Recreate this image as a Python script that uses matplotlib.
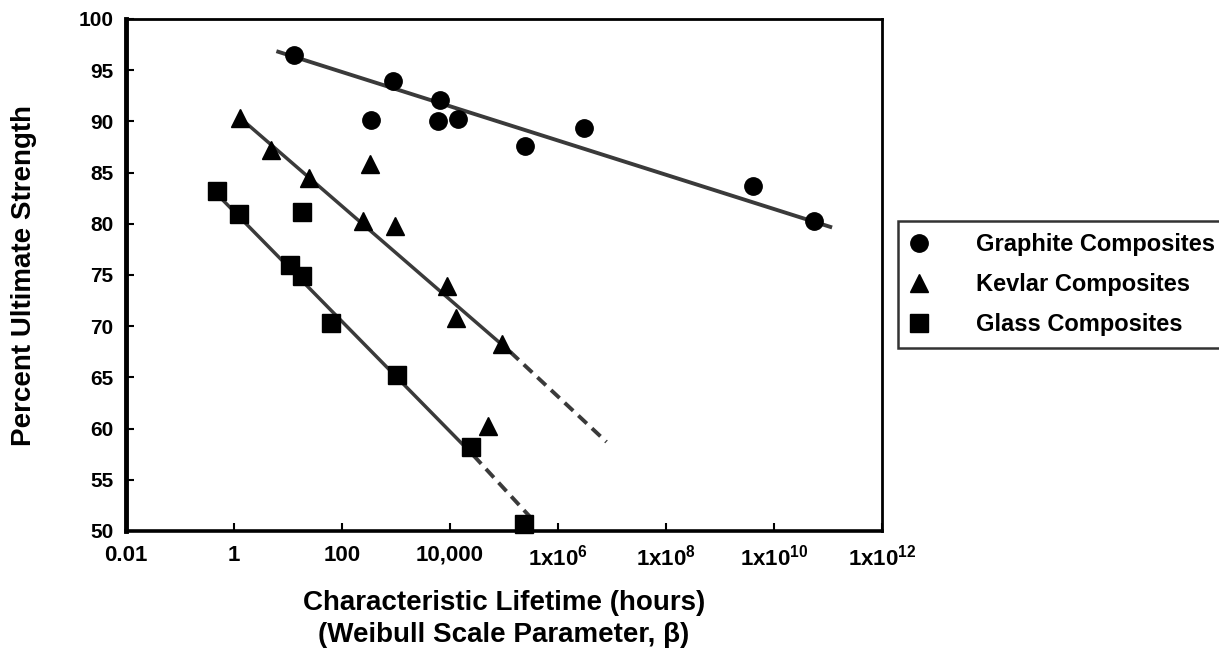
import numpy as np
import matplotlib
matplotlib.use('Agg')
import matplotlib.pyplot as plt
from matplotlib.ticker import NullLocator


plt.rcParams['font.family'] = ['Liberation Sans', 'DejaVu Sans']
plt.rcParams['font.weight'] = 'bold'
plt.rcParams['mathtext.fontset'] = 'custom'
plt.rcParams['mathtext.rm'] = 'Liberation Sans:bold'
plt.rcParams['mathtext.bf'] = 'Liberation Sans:bold'

# measured points (hours, percent of ultimate strength)
graphite_x = [13, 890, 345, 6500, 6000, 14000, 3.0e6, 2.5e5, 4.0e9, 5.6e10]
graphite_y = [96.5, 93.9, 90.1, 92.1, 90.0, 90.2, 89.4, 87.6, 83.7, 80.3]

kevlar_x = [1.3, 4.8, 25, 330, 240, 950, 8900, 13000, 93000, 51000]
kevlar_y = [90.3, 87.2, 84.5, 85.8, 80.3, 79.8, 73.9, 70.8, 68.3, 60.3]

glass_x = [0.49, 1.24, 18, 11, 18, 62, 1050, 25000, 2.3e5]
glass_y = [83.2, 81.0, 81.2, 76.0, 74.9, 70.3, 65.2, 58.2, 50.7]

# fitted trend lines: solid part and dashed extrapolation
graphite_fit_x = [6.6, 1.1e11]
graphite_fit_y = [96.8, 79.7]

kevlar_fit_x = [1.26, 1.3e5]
kevlar_fit_y = [90.4, 67.5]
kevlar_ext_x = [1.3e5, 7.9e6]
kevlar_ext_y = [67.5, 58.7]

glass_fit_x = [0.55, 2.7e4]
glass_fit_y = [82.6, 57.4]
glass_ext_x = [2.7e4, 4.0e5]
glass_ext_y = [57.4, 50.7]

x_ticks = [1e-2, 1, 1e2, 1e4, 1e6, 1e8, 1e10, 1e12]
x_tick_labels = ['0.01', '1', '100', '10,000',
                 r'$\mathbf{1x10^{6}}$', r'$\mathbf{1x10^{8}}$',
                 r'$\mathbf{1x10^{10}}$', r'$\mathbf{1x10^{12}}$']
y_ticks = np.arange(50, 101, 5)

labels = ['Graphite Composites', 'Kevlar Composites', 'Glass Composites']

fig = plt.figure(figsize=(12.19, 6.56), dpi=100)
ax = fig.add_axes([126 / 1219, 1 - 531 / 656, 756 / 1219, 512 / 656])

line_color = '#3a3a3a'
dash = (0, (3, 1.8))

# trend lines
ax.plot(graphite_fit_x, graphite_fit_y, color=line_color, lw=2.8)
ax.plot(kevlar_fit_x, kevlar_fit_y, color=line_color, lw=2.5)
ax.plot(kevlar_ext_x, kevlar_ext_y, color=line_color, lw=2.8, linestyle=dash)
ax.plot(glass_fit_x, glass_fit_y, color=line_color, lw=2.5)
ax.plot(glass_ext_x, glass_ext_y, color=line_color, lw=2.8, linestyle=dash)

# data points
ax.plot(graphite_x, graphite_y, 'o', color='black', ms=12.5, label=labels[0], clip_on=False)
ax.plot(kevlar_x, kevlar_y, '^', color='black', ms=13.5, label=labels[1], clip_on=False)
ax.plot(glass_x, glass_y, 's', color='black', ms=12.5, label=labels[2], clip_on=False)

ax.set_xscale('log')
ax.set_xlim(1e-2, 1e12)
ax.set_ylim(50, 100)
ax.set_xticks(x_ticks)
ax.set_xticklabels(x_tick_labels)
ax.xaxis.set_minor_locator(NullLocator())
ax.set_yticks(y_ticks)
ax.set_yticklabels([str(v) for v in y_ticks])

ax.tick_params(axis='x', direction='in', length=6, width=1.5, pad=10, labelsize=16)
ax.tick_params(axis='y', direction='in', length=6, width=1.5, pad=9, labelsize=15)

ax.spines['left'].set_linewidth(3.5)
ax.spines['bottom'].set_linewidth(2.6)
ax.spines['top'].set_linewidth(2.0)
ax.spines['right'].set_linewidth(2.0)

ax.set_ylabel('Percent Ultimate Strength', fontsize=20, fontweight='bold')
ax.yaxis.set_label_coords(-0.118, 0.5)
ax.set_xlabel('Characteristic Lifetime (hours)\n(Weibull Scale Parameter, β)',
              fontsize=20, fontweight='bold', linespacing=1.3)
ax.xaxis.set_label_coords(0.5, -0.115)

leg = fig.legend(loc='upper left', bbox_to_anchor=(898 / 1219, 1 - 221 / 656),
                 bbox_transform=fig.transFigure, borderaxespad=0,
                 frameon=True, fancybox=False, edgecolor='black',
                 handlelength=0.8, handletextpad=2.0, labelspacing=0.72,
                 borderpad=0.5, prop={'weight': 'bold', 'size': 17})
leg.get_frame().set_linewidth(1.8)

plt.savefig('out.png', dpi=100)
